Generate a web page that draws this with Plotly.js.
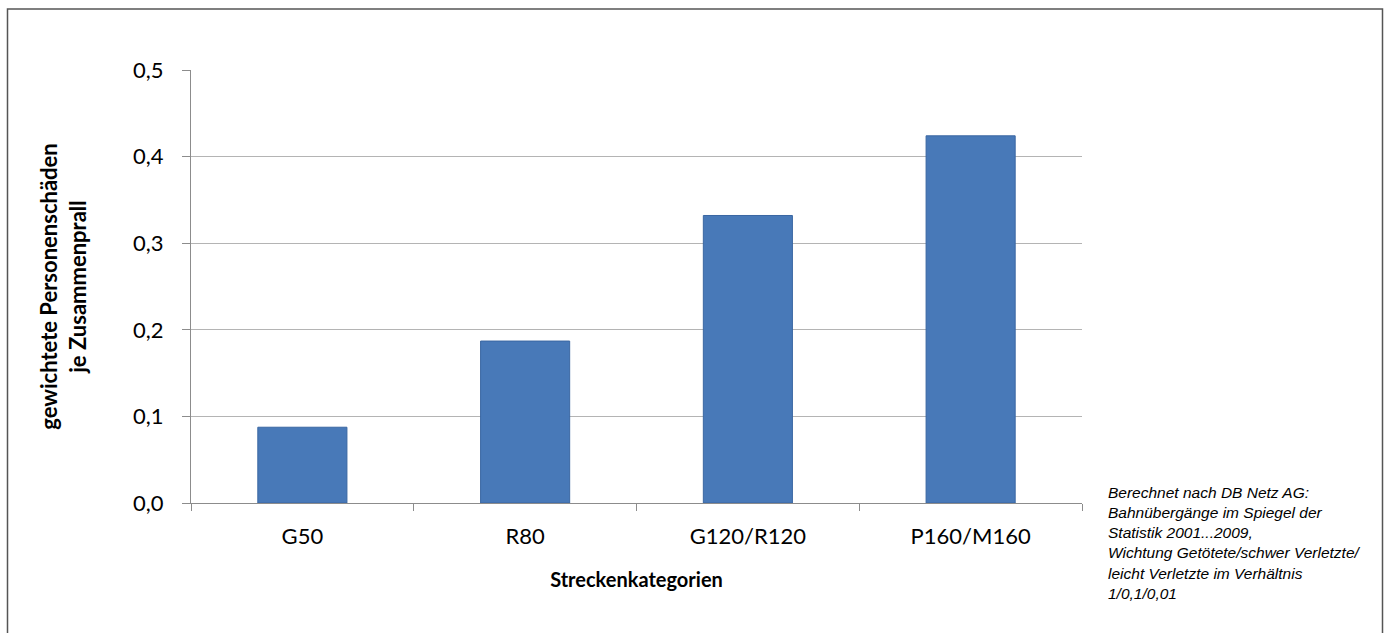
<!DOCTYPE html>
<html>
<head>
<meta charset="utf-8">
<script src="https://cdn.plot.ly/plotly-3.0.1.min.js"></script>
<style>html,body{margin:0;padding:0;background:#fff;}#chart{width:1386px;height:633px;}</style>
</head>
<body>
<div id="chart"></div>
<script>
const categories = ["G50", "R80", "G120/R120", "P160/M160"];
const values = [0.0875, 0.187, 0.332, 0.424];
const yTicks = [0, 0.1, 0.2, 0.3, 0.4, 0.5];
const yTickLabels = ["0,0", "0,1", "0,2", "0,3", "0,4", "0,5"];
const xTitle = "Streckenkategorien";
const yTitle = "gewichtete Personenschäden<br>je Zusammenprall";
const noteLines = [
  "Berechnet nach DB Netz AG:",
  "Bahnübergänge im Spiegel der",
  "Statistik 2001...2009,",
  "Wichtung Getötete/schwer Verletzte/",
  "leicht Verletzte im Verhältnis",
  "1/0,1/0,01"
];

const L = 191, R = 1082, T = 69.5, B = 503;
const W = 1386, H = 633;
const px2x = p => (p - L) / (R - L);
const py2y = p => (B - p) / (B - T);
const FONT = "Lato, 'Open Sans', sans-serif";

const trace = {
  type: "bar",
  x: categories,
  y: values,
  width: 0.4,
  marker: {
    color: "#4879b8",
    line: {color: "#3a67a2", width: 1}
  },
  hoverinfo: "none"
};

const layout = {
  width: W, height: H,
  margin: {l: L, r: W - R, t: T, b: H - B, pad: 0},
  paper_bgcolor: "#ffffff",
  plot_bgcolor: "#ffffff",
  showlegend: false,
  font: {family: FONT, color: "#000"},
  xaxis: {
    type: "category",
    showgrid: false,
    showline: true, linecolor: "#8c8c8c", linewidth: 1,
    ticks: "outside", tickson: "boundaries", ticklen: 7, tickcolor: "#8c8c8c",
    ticklabelstandoff: 14,
    tickfont: {size: 22, family: FONT, color: "#000"},
    title: {text: xTitle, font: {size: 20, family: FONT, color: "#000", weight: "bold"}, standoff: 24},
    fixedrange: true
  },
  yaxis: {
    range: [0, 0.5],
    tickvals: yTicks, ticktext: yTickLabels,
    showgrid: true, gridcolor: "#b4b4b4", gridwidth: 1,
    showline: true, linecolor: "#8c8c8c", linewidth: 1,
    ticks: "outside", ticklen: 8, tickcolor: "#8c8c8c",
    ticklabelstandoff: 14,
    tickfont: {size: 22, family: FONT, color: "#000"},
    title: {text: yTitle, font: {size: 22, family: FONT, color: "#000", weight: "bold"}, standoff: 40},
    zeroline: false,
    fixedrange: true
  },
  shapes: [{
    type: "rect", xref: "paper", yref: "paper",
    x0: px2x(7.5), x1: px2x(1382.5), y0: py2y(660), y1: py2y(8.5),
    line: {color: "#555555", width: 1.5}, fillcolor: "rgba(0,0,0,0)", layer: "below"
  }],
  annotations: [{
    xref: "paper", yref: "paper",
    x: px2x(1106), y: py2y(482),
    xanchor: "left", yanchor: "top", align: "left",
    showarrow: false,
    text: noteLines.map(s => "<i>" + s + "</i>").join("<br>"),
    font: {family: "'Liberation Sans', Arial, sans-serif", size: 15.5, color: "#000"}
  }]
};

Plotly.newPlot("chart", [trace], layout, {displayModeBar: false, staticPlot: true});
</script>
</body>
</html>
